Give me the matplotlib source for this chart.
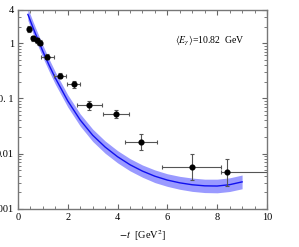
import matplotlib
matplotlib.use("Agg")
import matplotlib.pyplot as plt
from matplotlib.ticker import FixedLocator, LogLocator, NullFormatter, MultipleLocator

# ---- data ----
t_data = [0.44, 0.60, 0.75, 0.88, 1.18, 1.69, 2.24, 2.87, 3.94, 4.94, 7.00, 8.39]
y_data = [1.79, 1.23, 1.12, 1.02, 0.57, 0.258, 0.18, 0.075, 0.052, 0.0163, 0.0058, 0.00465]
t_err_lo = [0.08, 0.08, 0.08, 0.10, 0.25, 0.25, 0.26, 0.51, 0.51, 0.64, 1.23, 0.25]
t_err_hi = [0.08, 0.08, 0.08, 0.10, 0.25, 0.25, 0.26, 0.51, 0.51, 0.64, 1.14, 1.70]
y_err_lo = [0.22, 0.12, 0.10, 0.09, 0.05, 0.025, 0.025, 0.012, 0.008, 0.0048, 0.0024, 0.0020]
y_err_hi = [0.25, 0.14, 0.12, 0.10, 0.06, 0.028, 0.028, 0.015, 0.010, 0.0068, 0.0040, 0.0035]

t_curve = [0.40, 0.60, 0.80, 1.00, 1.25, 1.50, 2.00, 2.50, 3.00, 3.50, 4.00, 4.50,
           5.00, 5.50, 6.00, 6.50, 7.00, 7.50, 8.00, 8.50, 9.00]
y_curve = [3.31, 1.93, 1.16, 0.711, 0.400, 0.234, 0.0902, 0.0407, 0.0216, 0.0132, 0.00881,
           0.00631, 0.00484, 0.00391, 0.00333, 0.00297, 0.00274, 0.00262, 0.00260, 0.00275,
           0.00309]
y_band_lo = [2.57, 1.50, 0.90, 0.551, 0.310, 0.181, 0.0699, 0.0316, 0.0167, 0.0102, 0.00683,
             0.00489, 0.00375, 0.00300, 0.00256, 0.00227, 0.00208, 0.00198, 0.00196, 0.00207,
             0.00232]
y_band_hi = [4.27, 2.49, 1.50, 0.917, 0.516, 0.302, 0.1164, 0.0525, 0.0279, 0.0170, 0.01136,
             0.00814, 0.00624, 0.00508, 0.00433, 0.00389, 0.00362, 0.00346, 0.00346, 0.00366,
             0.00411]

x_ticks = [0, 2, 4, 6, 8, 10]
y_ticks = [0.001, 0.01, 0.1, 1, 4]
y_tick_labels = ["0.001", "0.01", "0. 1", "1", "4"]
annotation = r"$\langle E_\gamma\rangle$=10.82  GeV"
x_label = r"$-t$  [GeV$^2$]"

plt.rcParams['font.family'] = ['Liberation Serif', 'DejaVu Serif']
plt.rcParams['mathtext.fontset'] = 'stix'

fig = plt.figure(figsize=(2.99, 2.47), dpi=100)
ax = fig.add_axes([0.060, 0.154, 0.833, 0.806])

ax.fill_between(t_curve, y_band_lo, y_band_hi, color='#9a9aff', lw=0, zorder=1)
ax.plot(t_curve, y_curve, color='#1010ee', lw=1.0, zorder=2)
ax.errorbar(t_data, y_data, xerr=[t_err_lo, t_err_hi], yerr=[y_err_lo, y_err_hi],
            fmt='o', ms=3.4, color='black', ecolor='#555555', elinewidth=0.8,
            capsize=1.5, capthick=0.8, zorder=3)

ax.set_yscale('log')
ax.set_xlim(0, 10)
ax.set_ylim(0.001, 4)

ax.xaxis.set_major_locator(FixedLocator(x_ticks))
ax.xaxis.set_minor_locator(MultipleLocator(0.5))
ax.yaxis.set_major_locator(FixedLocator(y_ticks))
ax.set_yticklabels(y_tick_labels)
ax.yaxis.set_minor_locator(LogLocator(base=10, subs=range(2, 10)))
ax.yaxis.set_minor_formatter(NullFormatter())

ax.tick_params(which='both', direction='in', top=True, right=True, color='#666666',
               labelsize=7.5, pad=3)
ax.tick_params(which='major', length=3.5, width=0.8)
ax.tick_params(which='minor', length=2, width=0.6)
for s in ax.spines.values():
    s.set_color('#777777')
    s.set_linewidth(1.0)

ax.set_xlabel(x_label, fontsize=7.5, labelpad=4)
ax.text(0.63, 0.85, annotation, transform=ax.transAxes, fontsize=7, ha='left', va='center')

fig.savefig('out.png', dpi=100)
